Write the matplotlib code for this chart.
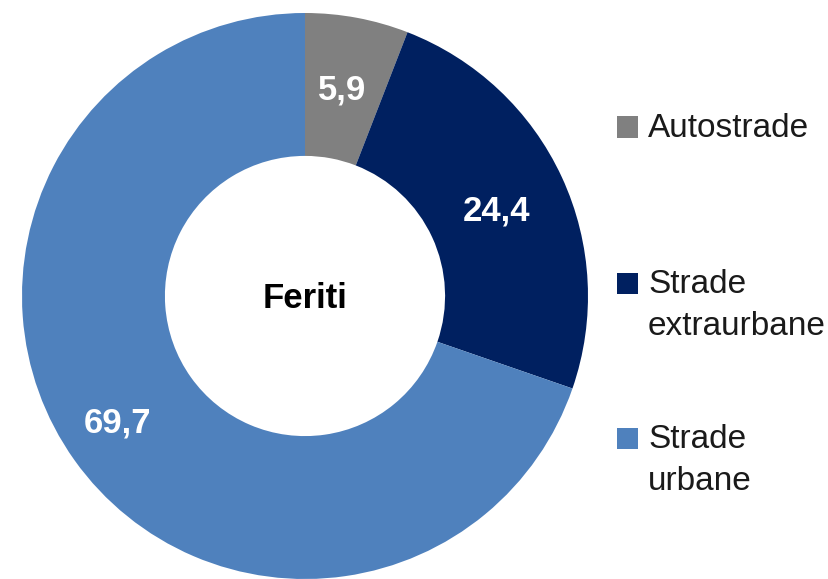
import matplotlib
matplotlib.use("Agg")
import matplotlib.pyplot as plt
from matplotlib.patches import Rectangle
import numpy as np

categories = ["Autostrade", "Strade extraurbane", "Strade urbane"]
legend_labels = ["Autostrade", "Strade\nextraurbane", "Strade\nurbane"]
values = [5.9, 24.4, 69.7]
value_labels = ["5,9", "24,4", "69,7"]
colors = ["#808080", "#002060", "#4f81bd"]
center_label = "Feriti"

NARROW = ["Liberation Sans Narrow", "Liberation Sans", "DejaVu Sans"]

W, H = 829, 579
fig = plt.figure(figsize=(W / 100, H / 100), dpi=100)

# donut: centre (305, 296) px from top-left, radius 283 px
cx, cy, r = 305, 296, 283
ax = fig.add_axes([(cx - r) / W, (H - cy - r) / H, 2 * r / W, 2 * r / H])
wedges, _ = ax.pie(values, colors=colors, startangle=90, counterclock=False,
                   radius=1.0, wedgeprops=dict(width=0.505, edgecolor="none"))
ax.set_xlim(-1, 1)
ax.set_ylim(-1, 1)
ax.set_aspect("equal")
ax.axis("off")

# value labels along each wedge's mid angle (small nudges to match the original)
dist = [0.74, 0.74, 0.80]
nudge = [-0.5, 1.0, 1.4]   # degrees clockwise
for w, lab, d, n in zip(wedges, value_labels, dist, nudge):
    th = np.deg2rad((w.theta1 + w.theta2) / 2 - n)
    ax.text(d * np.cos(th), d * np.sin(th), lab, ha="center", va="center",
            color="white", fontsize=25, fontweight="bold", family=NARROW)

ax.text(0, -0.01, center_label, ha="center", va="center", fontsize=25,
        fontweight="bold", family=["Liberation Sans", "DejaVu Sans"])

# legend, drawn by hand so the swatch sits on the first text line
first_line_y = [127, 283, 438]
for lab, col, y in zip(legend_labels, colors, first_line_y):
    fig.patches.append(Rectangle((617 / W, 1 - (y + 10.5) / H), 21 / W, 21 / H,
                                 transform=fig.transFigure, facecolor=col,
                                 edgecolor="none"))
    fig.text(648 / W, 1 - (y - 14) / H, lab, ha="left", va="top", fontsize=24,
             color="#1a1a1a", family=NARROW, linespacing=1.45)

fig.savefig("out.png", dpi=100)
